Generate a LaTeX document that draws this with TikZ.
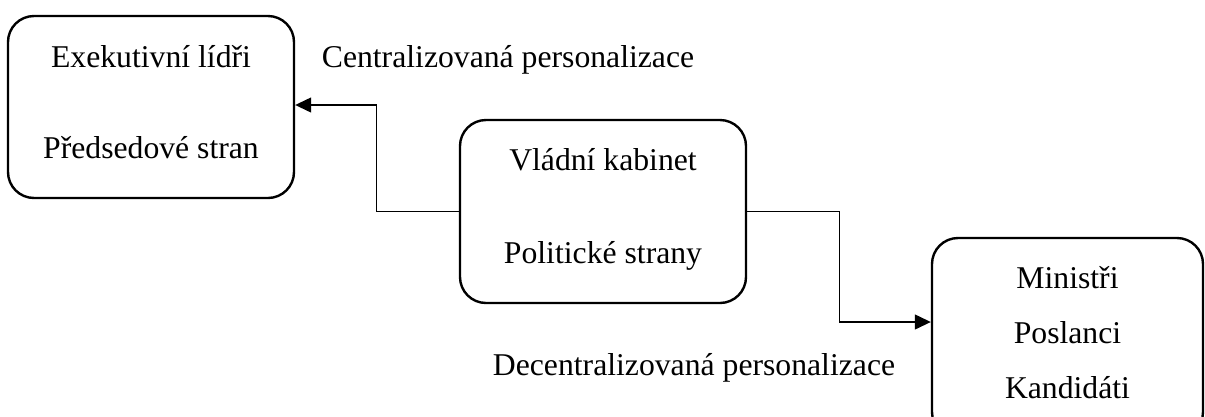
\documentclass[tikz,border=0pt]{standalone}
\usepackage{fontspec}
\setmainfont{Liberation Serif}
\usetikzlibrary{arrows.meta}
\begin{document}
\begin{tikzpicture}[x=1pt,y=-1pt,
  box/.style={draw, line width=2.4pt, rounded corners=26pt, inner sep=0pt},
  lbl/.style={anchor=base, inner sep=0pt, font=\fontsize{31.7}{38}\selectfont},
  conn/.style={line width=1.3pt, -{Triangle[length=16pt,width=15pt]}}]
\useasboundingbox (0,0) rectangle (1205,416);
\node[box, minimum width=286pt, minimum height=182pt] (b1) at (151,107) {};
\node[box, minimum width=286pt, minimum height=183pt] (b2) at (603,211.5) {};
\node[box, minimum width=271pt, minimum height=200pt] (b3) at (1067.5,338) {};
\node[lbl] (t1) at (151,67) {Exekutivní lídři};
\node[lbl] (t2) at (151,158) {Předsedové stran};
\node[lbl] (t3) at (603,170) {Vládní kabinet};
\node[lbl] (t4) at (603,263) {Politické strany};
\node[lbl] (t5) at (1067.5,288) {Ministři};
\node[lbl] (t6) at (1067.5,343) {Poslanci};
\node[lbl] (t7) at (1067.5,398) {Kandidáti};
\node[lbl] (c1) at (508,67) {Centralizovaná personalizace};
\node[lbl] (c2) at (694,375) {Decentralizovaná personalizace};
\draw[conn] (b2.west) -- ++(-82,0) |- ([yshift=2pt]b1.east);
\draw[conn] (b2.east) -- ++(92,0) |- ([yshift=16pt]b3.west);
\end{tikzpicture}
\end{document}
